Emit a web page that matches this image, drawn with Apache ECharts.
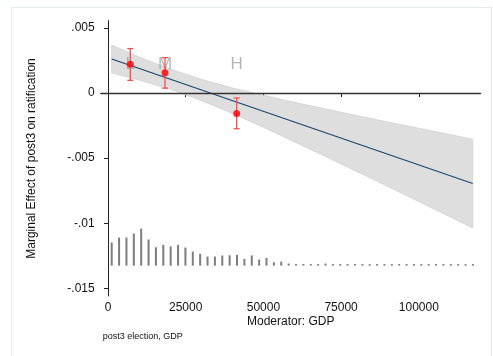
<!DOCTYPE html>
<html>
<head>
<meta charset="utf-8">
<script src="https://cdn.jsdelivr.net/npm/echarts@6/dist/echarts.min.js"></script>
<style>
html,body{margin:0;padding:0;background:#fff;}
#chart{width:493px;height:356px;}
</style>
</head>
<body>
<div id="chart"></div>
<script>
// ---- data ----
const xTicks = [0, 25000, 50000, 75000, 100000];
const yTicks = [-0.015, -0.01, -0.005, 0, 0.005];

const fitX = [1190, 117340];
const fitY = [0.00262, -0.00695];

const bandX     = [1190, 10000, 20000, 30000, 40000, 50000, 60000, 70000, 80000, 90000, 100000, 117340];
const bandUpper = [0.00370, 0.00278, 0.00185, 0.00106, 0.00040, -0.00017, -0.00071, -0.00122, -0.00172, -0.00222, -0.00270, -0.00354];
const bandLower = [0.00154, 0.00100, 0.00030, -0.00057, -0.00156, -0.00263, -0.00375, -0.00488, -0.00602, -0.00718, -0.00834, -0.01036];

const pointLabels = ['L', 'M', 'H'];
const pointX  = [7180, 18340, 41400];
const pointY  = [0.00221, 0.00157, -0.00156];
const pointHi = [0.00342, 0.00272, -0.00038];
const pointLo = [0.00098, 0.00038, -0.00274];
const labelY  = 0.0022;

const histBase = -0.01326;
const histX = [1190, 3562, 5934, 8306, 10678, 13050, 15422, 17794, 20166, 22538,
  24910, 27282, 29654, 32026, 34398, 36770, 39142, 41514, 43886, 46258,
  48630, 51002, 53374, 55746, 58118, 60490, 62862, 65234, 67606, 69978,
  72350, 74722, 77094, 79466, 81838, 84210, 86582, 88954, 91326, 93698,
  96070, 98442, 100814, 103186, 105558, 107930, 110302, 112674, 115046, 117418];
const histTop = [-0.01148, -0.0111, -0.0111, -0.0108, -0.01041, -0.01125, -0.01185, -0.01166, -0.01177, -0.01166,
  -0.01187, -0.01218, -0.01235, -0.01256, -0.01256, -0.01248, -0.01246, -0.01243, -0.01274, -0.01248,
  -0.01279, -0.01266, -0.013, -0.01295, -0.0131, -0.01314, -0.01314, -0.01314, -0.01314, -0.0131,
  -0.01314, -0.01314, -0.01314, -0.01314, -0.01314, -0.01314, -0.01314, -0.01314, -0.01314, -0.01314,
  -0.01314, -0.01314, -0.01314, -0.01314, -0.01314, -0.01314, -0.01314, -0.01314, -0.01314, -0.01314];

const yTitle = 'Marginal Effect of post3 on ratification';
const xTitle = 'Moderator: GDP';
const note = 'post3 election, GDP';

// ---- chart ----
const FONT = '"Liberation Sans", Arial, Helvetica, sans-serif';
const chart = echarts.init(document.getElementById('chart'), null, {renderer: 'canvas'});

function fmtY(v) {
  if (v === 0) return '0';
  return String(v).replace('0.', '.');
}
function fmtX(v) { return String(Math.round(v)); }

const option = {
  animation: false,
  backgroundColor: '#ffffff',
  grid: {left: 100.7, right: 12.3, top: 20.7, bottom: 60},
  xAxis: {
    type: 'value', min: -2349, max: 119916,
    axisLine: {show: true, lineStyle: {color: '#222', width: 1}},
    axisTick: {show: true, length: 4, lineStyle: {color: '#222'}, customValues: xTicks},
    axisLabel: {show: true, customValues: xTicks, margin: 6, color: '#111', fontSize: 12, fontFamily: FONT, formatter: fmtX},
    splitLine: {show: false}
  },
  yAxis: {
    type: 'value', min: -0.015592, max: 0.005562,
    axisLine: {show: true, lineStyle: {color: '#222', width: 1}},
    axisTick: {show: true, length: 4, lineStyle: {color: '#222'}, customValues: yTicks},
    axisLabel: {show: true, customValues: yTicks, margin: 6, color: '#111', fontSize: 12, fontFamily: FONT, formatter: fmtY},
    splitLine: {show: false}
  },
  graphic: [
    {type: 'rect', shape: {x: 11.5, y: 7.5, width: 480, height: 360}, style: {fill: 'none', stroke: '#e3eced', lineWidth: 1}, silent: true, z: -10},
    {type: 'text', x: 31.7, y: 158.5, rotation: Math.PI / 2,
      style: {text: yTitle, font: '12px ' + FONT, fill: '#111', textAlign: 'center', textVerticalAlign: 'middle'}},
    {type: 'text', x: 290.7, y: 322, style: {text: xTitle, font: '12px ' + FONT, fill: '#111', textAlign: 'center', textVerticalAlign: 'middle'}},
    {type: 'text', x: 102.7, y: 336.5, style: {text: note, font: '9px ' + FONT, fill: '#111', textAlign: 'left', textVerticalAlign: 'middle'}}
  ],
  series: [
    {
      type: 'custom', name: 'band', z: 1,
      data: bandX.map((x, i) => [x, bandUpper[i], bandLower[i]]),
      encode: {x: 0, y: [1, 2]},
      renderItem: function (params, api) {
        if (params.dataIndex !== 0) return null;
        const pts = [];
        for (let i = 0; i < bandX.length; i++) pts.push(api.coord([bandX[i], bandUpper[i]]));
        for (let i = bandX.length - 1; i >= 0; i--) pts.push(api.coord([bandX[i], bandLower[i]]));
        return {type: 'polygon', shape: {points: pts}, style: {fill: '#dedede', stroke: '#d2d2d2', lineWidth: 0.8}};
      }
    },
    {
      type: 'custom', name: 'hist', z: 2,
      data: histX.map((x, i) => [x, histTop[i]]),
      encode: {x: 0, y: 1},
      renderItem: function (params, api) {
        const top = api.coord([api.value(0), api.value(1)]);
        const base = api.coord([api.value(0), histBase]);
        return {type: 'rect', shape: {x: top[0] - 1, y: top[1], width: 2, height: Math.max(1, base[1] - top[1])},
          style: {fill: '#7d7d7d'}};
      }
    },
    {
      type: 'line', name: 'fit', z: 3,
      data: fitX.map((x, i) => [x, fitY[i]]),
      symbol: 'none',
      lineStyle: {color: '#1a476f', width: 1.2},
      markLine: {
        silent: true, symbol: ['none', 'none'], label: {show: false},
        lineStyle: {color: '#333', width: 1.3, type: 'solid'},
        data: [{yAxis: 0}]
      }
    },
    {
      type: 'scatter', name: 'labels', z: 4,
      data: pointX.map((x, i) => ({value: [x, labelY], name: pointLabels[i]})),
      symbolSize: 0,
      label: {show: true, position: 'inside', formatter: '{b}', color: '#a3a3a3', fontSize: 17, fontFamily: FONT}
    },
    {
      type: 'custom', name: 'ci', z: 5,
      data: pointX.map((x, i) => [x, pointLo[i], pointHi[i]]),
      encode: {x: 0, y: [1, 2]},
      renderItem: function (params, api) {
        const lo = api.coord([api.value(0), api.value(1)]);
        const hi = api.coord([api.value(0), api.value(2)]);
        const st = {stroke: '#f25050', lineWidth: 1.3};
        return {type: 'group', children: [
          {type: 'line', shape: {x1: lo[0], y1: lo[1], x2: hi[0], y2: hi[1]}, style: st},
          {type: 'line', shape: {x1: lo[0] - 3, y1: lo[1], x2: lo[0] + 3, y2: lo[1]}, style: st},
          {type: 'line', shape: {x1: hi[0] - 3, y1: hi[1], x2: hi[0] + 3, y2: hi[1]}, style: st}
        ]};
      }
    },
    {
      type: 'scatter', name: 'points', z: 6,
      data: pointX.map((x, i) => [x, pointY[i]]),
      symbol: 'circle', symbolSize: 7,
      itemStyle: {color: '#ff0000'}
    }
  ]
};
chart.setOption(option);
</script>
</body>
</html>
